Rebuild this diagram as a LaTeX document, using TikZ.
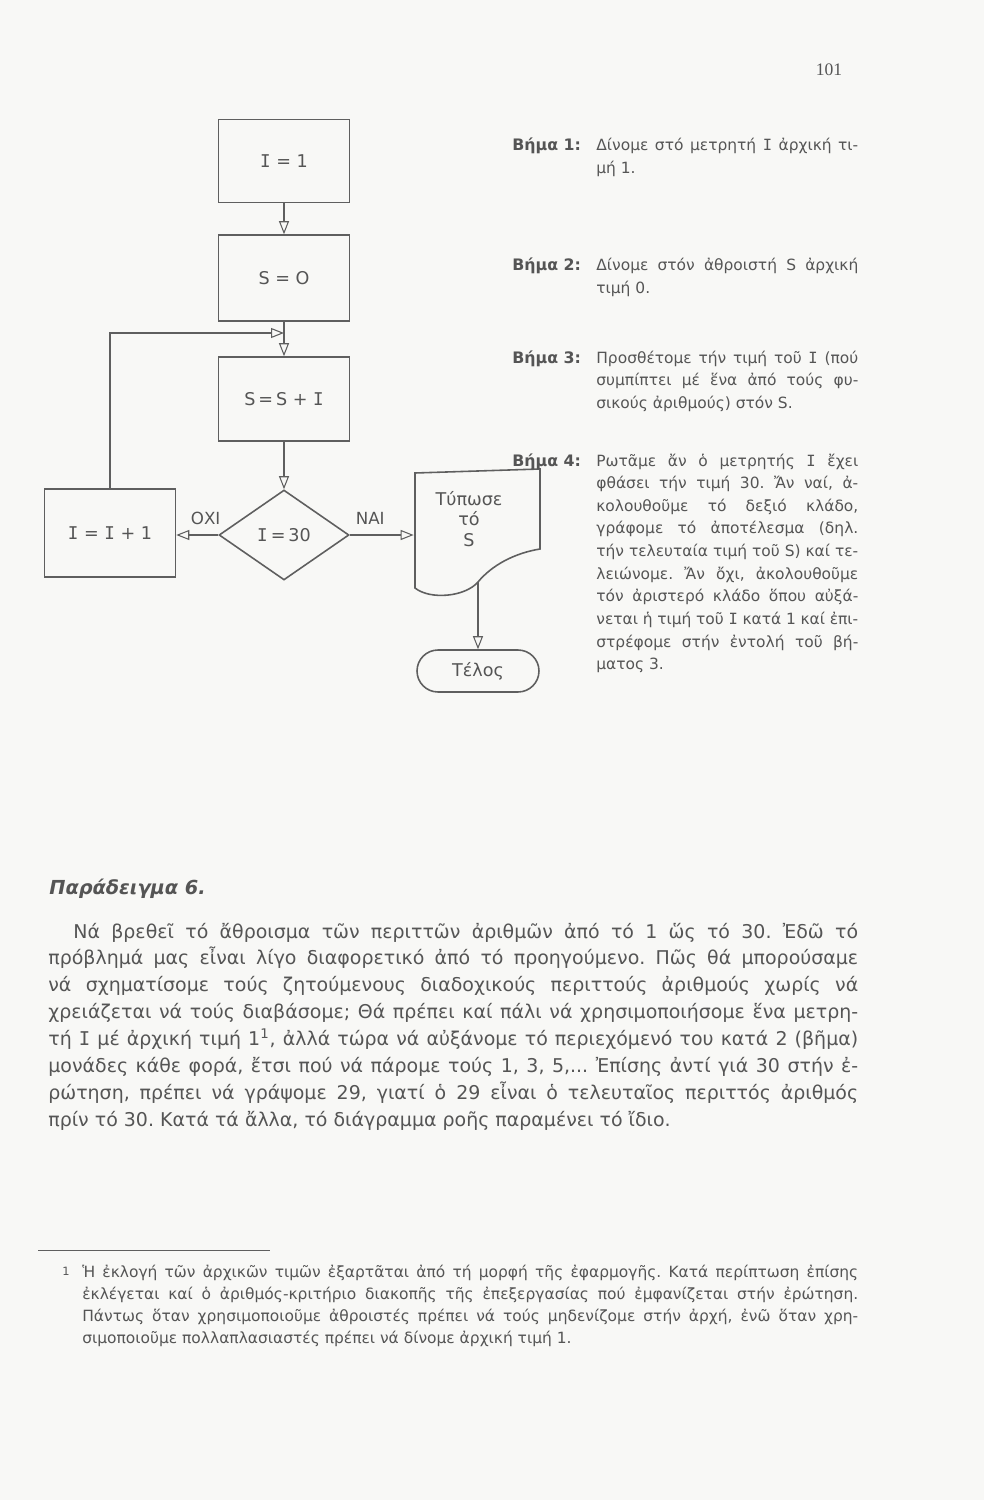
\documentclass[tikz,border=0pt]{standalone}
\usepackage{fontspec}
\setmainfont{DejaVu Sans}
\newfontfamily\slabfont{DejaVu Sans Mono}
\newfontfamily\foliofont{Liberation Serif}
\usetikzlibrary{shapes.geometric,arrows.meta}
\definecolor{paperbg}{RGB}{248,248,246}
\definecolor{inkgray}{RGB}{85,85,85}
\definecolor{linegray}{RGB}{95,95,95}
\newcommand{\cI}{{\slabfont I}}
\frenchspacing
\tolerance=9999
\begin{document}
\begin{tikzpicture}[x=0.02cm,y=-0.02cm,
  every node/.style={inner sep=0pt,text=inkgray},
  box/.style={draw=linegray,line width=0.9pt,minimum width=2.62cm,minimum height=1.66cm,font=\fontsize{10}{13}\selectfont},
  test/.style={diamond,draw=linegray,line width=0.9pt,minimum width=2.6cm,minimum height=1.8cm,font=\fontsize{10}{13}\selectfont},
  flow/.style={draw=linegray,line width=0.6pt,-{Triangle[open,length=0.26cm,width=0.2cm]}},
  answer/.style={font=\fontsize{9.5}{11}\selectfont,above=0.2cm},
  steplabel/.style={anchor=base west,font=\fontsize{9}{12.9}\selectfont\bfseries},
  steptext/.style={anchor=base west,text width=5.24cm,align=justify,font=\fontsize{8.8}{12.9}\selectfont},
  body/.style={anchor=base west,text width=16.2cm,align=justify,font=\fontsize{10.8}{15.3}\selectfont},
  note/.style={anchor=base west,text width=15.52cm,align=justify,font=\fontsize{8.8}{12.7}\selectfont}]
\fill[paperbg] (0,0) rectangle (984,1500);
\node[font=\foliofont\fontsize{10}{12}\selectfont] (folio) at (829,70) {101};
% flowchart
\node[box] (one) at (284,161) {\cI\ = 1};
\node[box,minimum height=1.72cm] (zero) at (284,278) {S = O};
\node[box,minimum height=1.68cm] (sum) at (284,399) {S\,=\,S + \cI};
\node[test] (ask) at (284,535) {\cI\,=\,30};
\node[box,minimum height=1.76cm] (inc) at (110,533) {\cI\ = \cI\ + 1};
\node[minimum width=2.52cm,minimum height=2.32cm] (print) at (477,529) {};
\draw[linegray,line width=0.9pt] (415,473) -- (540,469) -- (540,549)
  .. controls (515,553) and (492,565) .. (478,582)
  .. controls (465,597) and (430,600) .. (415,588) -- cycle;
\node[align=center,font=\fontsize{10}{11.5}\selectfont] (printtext) at (469,519) {Τύπωσε\\τό\\S};
\node[draw=linegray,line width=0.9pt,rounded corners=0.42cm,minimum width=2.44cm,minimum height=0.84cm,font=\fontsize{10}{12}\selectfont] (stop) at (478,671) {Τέλος};
\coordinate (merge) at (284,333);
\coordinate (wave) at (478,582);
\draw[flow] (one) -- (zero);
\draw[flow] (zero) -- (sum);
\draw[flow] (sum) -- (ask);
\draw[flow] (ask.west) -- node[answer,pos=0.3] {ΟΧΙ} (ask.west -| inc.east);
\draw[flow] (ask.east) -- node[answer,pos=0.32] {ΝΑΙ} (ask.east -| print.west);
\draw[flow] (inc.north) |- (merge);
\draw[flow] (wave) -- (stop);
% steps
\node[steplabel] (lab1) at (512,151) {Βήμα 1:};
\node[steptext] (step1) at (596,151) {Δίνομε στό μετρητή \cI\ ἀρχική τι-\linebreak μή 1.};
\node[steplabel] (lab2) at (512,271) {Βήμα 2:};
\node[steptext] (step2) at (596,271) {Δίνομε στόν ἀθροιστή S ἀρχική\linebreak τιμή 0.};
\node[steplabel] (lab3) at (512,363) {Βήμα 3:};
\node[steptext] (step3) at (596,363) {Προσθέτομε τήν τιμή τοῦ \cI\ (πού\linebreak
  συμπίπτει μέ ἕνα ἀπό τούς φυ-\linebreak σικούς ἀριθμούς) στόν S.};
\node[steplabel] (lab4) at (512,466) {Βήμα 4:};
\node[steptext] (step4) at (596,466) {Ρωτᾶμε ἄν ὁ μετρητής \cI\ ἔχει\linebreak
  φθάσει τήν τιμή 30. Ἄν ναί, ἀ-\linebreak
  κολουθοῦμε τό δεξιό κλάδο,\linebreak
  γράφομε τό ἀποτέλεσμα (δηλ.\linebreak
  τήν τελευταία τιμή τοῦ S) καί τε-\linebreak
  λειώνομε. Ἄν ὄχι, ἀκολουθοῦμε\linebreak
  τόν ἀριστερό κλάδο ὅπου αὐξά-\linebreak
  νεται ἡ τιμή τοῦ \cI\ κατά 1 καί ἐπι-\linebreak
  στρέφομε στήν ἐντολή τοῦ βή-\linebreak
  ματος 3.};
% example text
\node[anchor=base west,font=\fontsize{11}{13}\selectfont\bfseries\itshape] (title) at (49,894) {Παράδειγμα 6.};
\node[body] (para) at (48,938) {\hspace*{0.5cm}Νά βρεθεῖ τό ἄθροισμα τῶν περιττῶν ἀριθμῶν ἀπό τό 1 ὥς τό 30. Ἐδῶ τό\linebreak
  πρόβλημά μας εἶναι λίγο διαφορετικό ἀπό τό προηγούμενο. Πῶς θά μπορούσαμε\linebreak
  νά σχηματίσομε τούς ζητούμενους διαδοχικούς περιττούς ἀριθμούς χωρίς νά\linebreak
  χρειάζεται νά τούς διαβάσομε; Θά πρέπει καί πάλι νά χρησιμοποιήσομε ἕνα μετρη-\linebreak
  τή \cI\ μέ ἀρχική τιμή 1\textsuperscript{1}, ἀλλά τώρα νά αὐξάνομε τό περιεχόμενό του κατά 2 (βῆμα)\linebreak
  μονάδες κάθε φορά, ἔτσι πού νά πάρομε τούς 1, 3, 5,... Ἐπίσης ἀντί γιά 30 στήν ἐ-\linebreak
  ρώτηση, πρέπει νά γράψομε 29, γιατί ὁ 29 εἶναι ὁ τελευταῖος περιττός ἀριθμός\linebreak
  πρίν τό 30. Κατά τά ἄλλα, τό διάγραμμα ροῆς παραμένει τό ἴδιο.};
% footnote
\draw[linegray,line width=0.5pt] (38,1250) -- (270,1250);
\node[anchor=base west,font=\fontsize{6.5}{8}\selectfont] (mark) at (62,1275) {1};
\node[note] (foot) at (82,1277) {Ἡ ἐκλογή τῶν ἀρχικῶν τιμῶν ἐξαρτᾶται ἀπό τή μορφή τῆς ἐφαρμογῆς. Κατά περίπτωση ἐπίσης\linebreak
  ἐκλέγεται καί ὁ \mbox{ἀριθμός-κριτήριο} διακοπῆς τῆς ἐπεξεργασίας πού ἐμφανίζεται στήν ἐρώτηση.\linebreak
  Πάντως ὅταν χρησιμοποιοῦμε ἀθροιστές πρέπει νά τούς μηδενίζομε στήν ἀρχή, ἐνῶ ὅταν χρη-\linebreak
  σιμοποιοῦμε πολλαπλασιαστές πρέπει νά δίνομε ἀρχική τιμή 1.};
\end{tikzpicture}
\end{document}
